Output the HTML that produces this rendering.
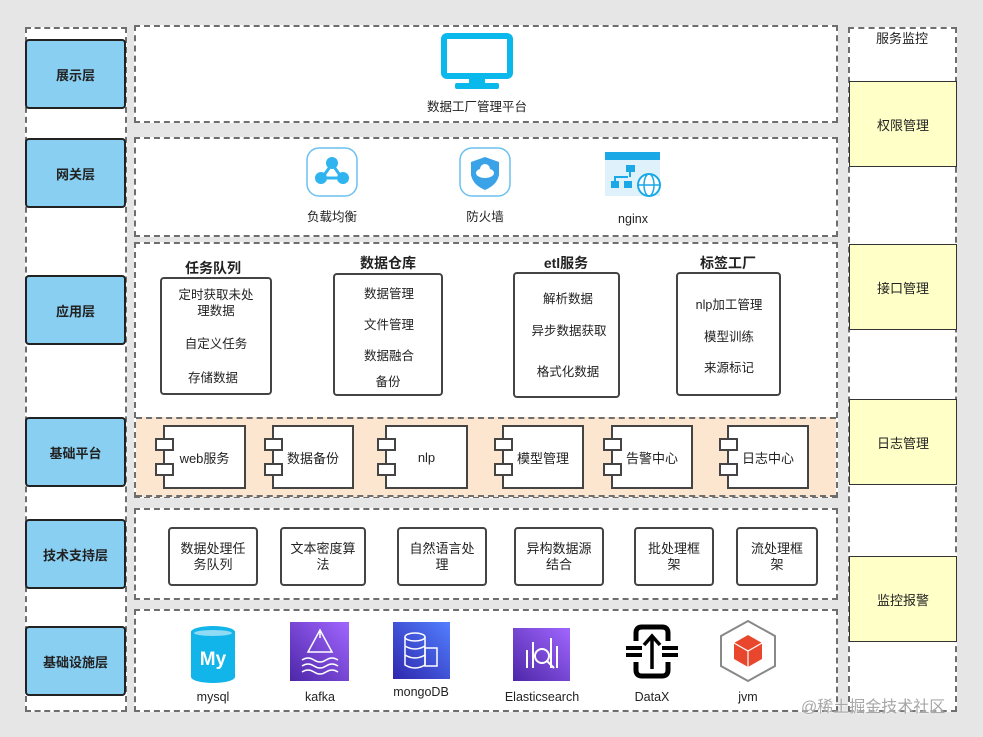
<!DOCTYPE html>
<html><head><meta charset="utf-8"><style>
*{margin:0;padding:0;box-sizing:border-box}
body{width:983px;height:737px;background:#e6e6e6;position:relative;overflow:hidden;font-family:"Liberation Sans","Noto Sans CJK SC",sans-serif;color:#222}
.a{position:absolute}
.dash{position:absolute;border:2px dashed #6e6e6e;background:#fff}
.blue{position:absolute;left:25px;width:101px;height:70px;background:#88cff2;border:2px solid #222;border-radius:4px;font-weight:bold;font-size:13px;display:flex;align-items:center;justify-content:center}
.yel{position:absolute;left:849px;width:108px;height:86px;background:#ffffc8;border:1.5px solid #333;font-size:13px;display:flex;align-items:center;justify-content:center}
.t{position:absolute;font-size:12.5px;text-align:center;white-space:nowrap;transform:translateX(-50%)}
.grp{position:absolute;border:2px solid #444;border-radius:4px;background:#fff}
.ttl{position:absolute;font-weight:bold;font-size:14px;transform:translateX(-50%);white-space:nowrap}
.cmp{position:absolute;top:425px;height:64px;background:#fff;border:2px solid #444;font-size:13px;display:flex;align-items:center;justify-content:center}
.cmp i{position:absolute;left:-10px;width:19px;height:13px;background:#fff;border:2px solid #444}
.tb{position:absolute;top:527px;height:59px;background:#fff;border:2px solid #444;border-radius:4px;font-size:13px;display:flex;align-items:center;justify-content:center;text-align:center;line-height:16px;padding:0 8px}
</style></head><body>
<div class="dash" style="left:25px;top:27px;width:102px;height:685px"></div>
<div class="dash" style="left:848px;top:27px;width:109px;height:685px"></div>
<div class="a" style="left:876px;top:28px;font-size:13px">服务监控</div>
<div class="yel" style="top:81px">权限管理</div>
<div class="yel" style="top:244px">接口管理</div>
<div class="yel" style="top:399px">日志管理</div>
<div class="yel" style="top:556px">监控报警</div>

<div class="dash" style="left:134px;top:25px;width:704px;height:98px"></div>
<div class="dash" style="left:134px;top:137px;width:704px;height:100px"></div>
<div class="dash" style="left:134px;top:242px;width:704px;height:256px"></div>
<div class="a" style="left:136px;top:417px;width:700px;height:80px;background:#fde6cf;border-top:2px dashed #6e6e6e;border-bottom:2px dashed #6e6e6e"></div>
<div class="dash" style="left:134px;top:508px;width:704px;height:92px"></div>
<div class="dash" style="left:134px;top:609px;width:704px;height:103px"></div>

<div class="blue" style="top:39px">展示层</div>
<div class="blue" style="top:138px">网关层</div>
<div class="blue" style="top:275px">应用层</div>
<div class="blue" style="top:417px">基础平台</div>
<div class="blue" style="top:519px">技术支持层</div>
<div class="blue" style="top:626px">基础设施层</div>

<svg class="a" style="left:441px;top:33px" width="72" height="57"><rect x="3" y="3" width="66" height="40" rx="3" fill="none" stroke="#0ab8ec" stroke-width="6"/><rect x="28" y="44" width="16" height="8" fill="#0ab8ec"/><rect x="14" y="50" width="44" height="6" rx="2" fill="#0ab8ec"/></svg>
<div class="t" style="left:477px;top:96px">数据工厂管理平台</div>

<svg class="a" style="left:306px;top:147px" width="52" height="50"><rect x="1" y="1" width="50" height="48" rx="12" fill="#fff" stroke="#6cc2ef" stroke-width="1.5"/><line x1="26" y1="17" x2="16" y2="31" stroke="#2fb4ef" stroke-width="3"/><line x1="26" y1="17" x2="36" y2="31" stroke="#2fb4ef" stroke-width="3"/><line x1="16" y1="31" x2="36" y2="31" stroke="#2fb4ef" stroke-width="3"/><circle cx="26" cy="16" r="6" fill="#2fb4ef"/><circle cx="15" cy="31" r="6" fill="#2fb4ef"/><circle cx="37" cy="31" r="6" fill="#2fb4ef"/></svg>
<div class="t" style="left:332px;top:206px">负载均衡</div>
<svg class="a" style="left:459px;top:147px" width="52" height="50"><rect x="1" y="1" width="50" height="48" rx="12" fill="#fff" stroke="#6cc2ef" stroke-width="1.5"/><path d="M26 10 L40 15 L40 28 Q38 38 26 43 Q14 38 12 28 L12 15 Z" fill="#3aa3e8"/><ellipse cx="26" cy="26" rx="9" ry="5" fill="#fff"/><circle cx="26" cy="22" r="5" fill="#fff"/></svg>
<div class="t" style="left:485px;top:206px">防火墙</div>
<svg class="a" style="left:604px;top:151px" width="60" height="46"><rect x="1" y="1" width="55" height="44" fill="#dff2fc"/><rect x="1" y="1" width="55" height="8" fill="#1aa9e6"/><rect x="22" y="14" width="9" height="7" fill="#1aa9e6"/><rect x="7" y="30" width="8" height="7" fill="#1aa9e6"/><rect x="20" y="30" width="8" height="7" fill="#1aa9e6"/><path d="M26 21v5M11 30v-4h13" stroke="#1aa9e6" stroke-width="2" fill="none"/><circle cx="45" cy="34" r="11" fill="#fff" stroke="#1aa9e6" stroke-width="2"/><ellipse cx="45" cy="34" rx="5" ry="11" fill="none" stroke="#1aa9e6" stroke-width="1.5"/><line x1="34" y1="34" x2="56" y2="34" stroke="#1aa9e6" stroke-width="1.5"/></svg>
<div class="t" style="left:633px;top:212px">nginx</div>

<div class="ttl" style="left:213px;top:258px">任务队列</div>
<div class="grp" style="left:160px;top:277px;width:112px;height:118px"></div>
<div class="t" style="left:216px;top:287px;line-height:16px">定时获取未处<br>理数据</div>
<div class="t" style="left:216px;top:333px">自定义任务</div>
<div class="t" style="left:213px;top:367px">存储数据</div>
<div class="ttl" style="left:388px;top:253px">数据仓库</div>
<div class="grp" style="left:333px;top:273px;width:110px;height:123px"></div>
<div class="t" style="left:389px;top:283px">数据管理</div>
<div class="t" style="left:389px;top:314px">文件管理</div>
<div class="t" style="left:389px;top:345px">数据融合</div>
<div class="t" style="left:388px;top:371px">备份</div>
<div class="ttl" style="left:566px;top:253px">etl服务</div>
<div class="grp" style="left:513px;top:272px;width:107px;height:126px"></div>
<div class="t" style="left:568px;top:288px">解析数据</div>
<div class="t" style="left:569px;top:320px">异步数据获取</div>
<div class="t" style="left:568px;top:361px">格式化数据</div>
<div class="ttl" style="left:728px;top:253px">标签工厂</div>
<div class="grp" style="left:676px;top:272px;width:105px;height:124px"></div>
<div class="t" style="left:729px;top:294px">nlp加工管理</div>
<div class="t" style="left:729px;top:326px">模型训练</div>
<div class="t" style="left:729px;top:357px">来源标记</div>

<div class="cmp" style="left:163px;width:83px">web服务<i style="top:11px"></i><i style="top:36px"></i></div>
<div class="cmp" style="left:272px;width:82px">数据备份<i style="top:11px"></i><i style="top:36px"></i></div>
<div class="cmp" style="left:385px;width:83px">nlp<i style="top:11px"></i><i style="top:36px"></i></div>
<div class="cmp" style="left:502px;width:82px">模型管理<i style="top:11px"></i><i style="top:36px"></i></div>
<div class="cmp" style="left:611px;width:82px">告警中心<i style="top:11px"></i><i style="top:36px"></i></div>
<div class="cmp" style="left:727px;width:82px">日志中心<i style="top:11px"></i><i style="top:36px"></i></div>

<div class="tb" style="left:168px;width:90px">数据处理任务队列</div>
<div class="tb" style="left:280px;width:86px">文本密度算法</div>
<div class="tb" style="left:397px;width:90px">自然语言处理</div>
<div class="tb" style="left:514px;width:90px">异构数据源结合</div>
<div class="tb" style="left:634px;width:80px">批处理框架</div>
<div class="tb" style="left:736px;width:82px;padding:0 10px">流处理框架</div>

<svg class="a" style="left:189px;top:625px" width="48" height="58"><rect x="2" y="6" width="44" height="46" fill="#12b5ea"/><ellipse cx="24" cy="7" rx="22" ry="6" fill="#12b5ea"/><ellipse cx="24" cy="52" rx="22" ry="6" fill="#12b5ea"/><ellipse cx="24" cy="8" rx="19" ry="3" fill="#8fdaf5"/><text x="24" y="40" font-family="Liberation Sans" font-weight="bold" font-size="19" fill="#fff" text-anchor="middle">My</text></svg>
<div class="t" style="left:213px;top:690px">mysql</div>
<svg class="a" style="left:290px;top:622px" width="60" height="60"><defs><linearGradient id="p" x1="0" y1="1" x2="1" y2="0"><stop offset="0" stop-color="#4d27a8"/><stop offset="1" stop-color="#a166ff"/></linearGradient></defs><rect width="59" height="59" fill="url(#p)"/><path d="M30 8 L18 30 L42 30 Z M30 16 v-8" stroke="#fff" fill="none" stroke-width="1.5"/><path d="M12 38q6-4 12 0t12 0t12 0M12 44q6-4 12 0t12 0t12 0M12 50q6-4 12 0t12 0t12 0" stroke="#fff" fill="none" stroke-width="1.5"/></svg>
<div class="t" style="left:320px;top:690px">kafka</div>
<svg class="a" style="left:393px;top:622px" width="57" height="57"><defs><linearGradient id="b" x1="0" y1="1" x2="1" y2="0"><stop offset="0" stop-color="#2e27ad"/><stop offset="1" stop-color="#527fff"/></linearGradient></defs><rect width="57" height="57" fill="url(#b)"/><ellipse cx="22" cy="15" rx="10" ry="4" fill="none" stroke="#fff" stroke-width="1.5"/><path d="M12 15v28q10 6 20 0V15M12 24q10 6 20 0M12 33q10 6 20 0" fill="none" stroke="#fff" stroke-width="1.5"/><rect x="32" y="26" width="12" height="18" fill="none" stroke="#fff" stroke-width="1.5"/></svg>
<div class="t" style="left:421px;top:685px">mongoDB</div>
<svg class="a" style="left:513px;top:628px" width="58" height="53"><rect width="57" height="53" fill="url(#p)"/><path d="M14 22v18M20 14v26M38 10v30M44 18v22" stroke="#fff" stroke-width="2"/><circle cx="29" cy="28" r="7" fill="none" stroke="#fff" stroke-width="2"/><path d="M34 33l7 7" stroke="#fff" stroke-width="2"/></svg>
<div class="t" style="left:542px;top:690px">Elasticsearch</div>
<svg class="a" style="left:622px;top:623px" width="60" height="57"><path d="M14 18V10q0-6 6-6h20q6 0 6 6v8M14 39v8q0 6 6 6h20q6 0 6-6v-8" fill="none" stroke="#000" stroke-width="5"/><path d="M4 25h16M40 25h16M4 32h16M40 32h16" stroke="#000" stroke-width="4"/><path d="M30 46V14M22 22l8-9 8 9" fill="none" stroke="#000" stroke-width="3.5"/></svg>
<div class="t" style="left:652px;top:690px">DataX</div>
<svg class="a" style="left:718px;top:619px" width="60" height="64"><path d="M30 2L57 17V47L30 62L3 47V17Z" fill="none" stroke="#888" stroke-width="2"/><path d="M30 16L44 24V40L30 48L16 40V24Z" fill="#e8472e"/><path d="M16 24L30 32L44 24M30 32V48" stroke="#fff" stroke-width="1.2" fill="none"/></svg>
<div class="t" style="left:748px;top:690px">jvm</div>
<div class="a" style="left:801px;top:693px;font-size:16px;color:#a8a8a8;text-shadow:0 0 2px #fff">@稀土掘金技术社区</div>
</body></html>
